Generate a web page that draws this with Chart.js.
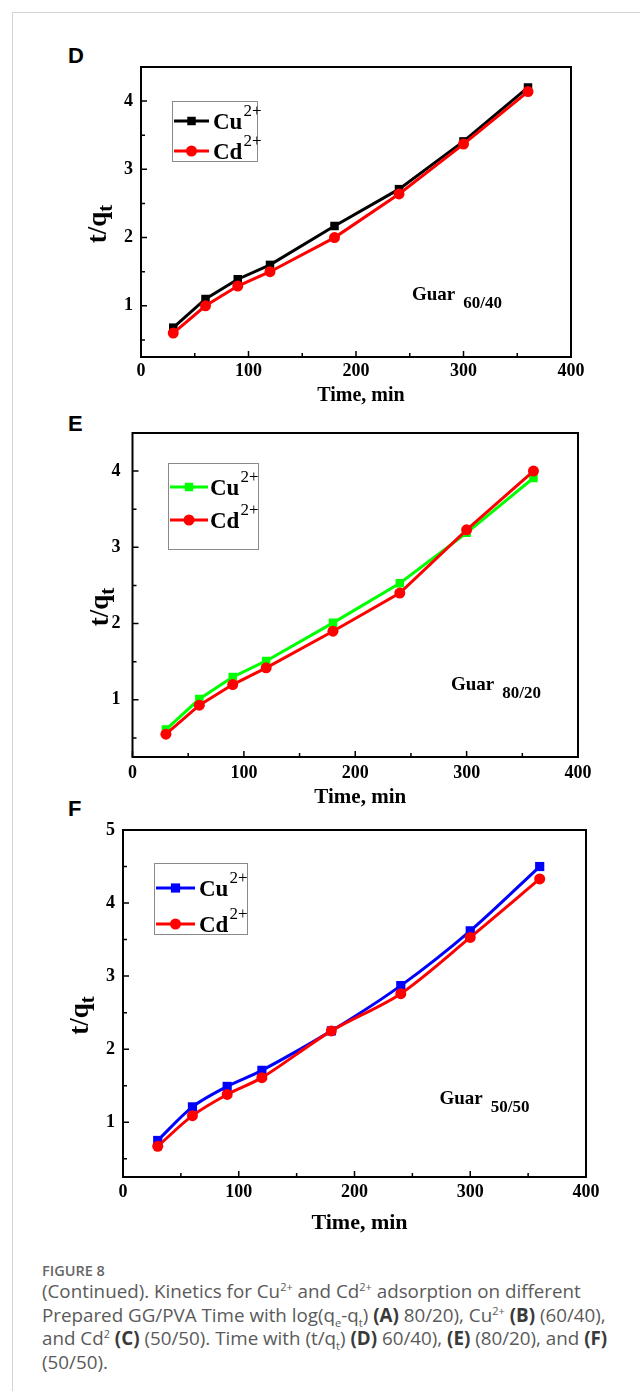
<!DOCTYPE html>
<html>
<head>
<meta charset="utf-8">
<script src="https://cdn.jsdelivr.net/npm/chart.js@4.4.0/dist/chart.umd.min.js"></script>
<style>
  body { margin: 0; background: #fff; width: 640px; height: 1391px; position: relative; overflow: hidden; }
  .frame { position: absolute; left: 12px; top: 12px; width: 640px; height: 1380px; border-left: 1px solid #d4d4d4; border-top: 1px solid #d4d4d4; }
  .panel { position: absolute; font-family: "Liberation Sans", Arial, sans-serif; font-weight: bold; font-size: 22px; color: #000; line-height: 1; }
  .box { position: absolute; left: 0; width: 640px; }
  .caption { position: absolute; left: 42px; top: 1262px; width: 598px; font-family: "Open Sans", sans-serif; color: #5a5a5a; font-size: 18.8px; line-height: 23.5px; white-space: nowrap; }
  .caption .fig { font-size: 14.5px; font-weight: 600; color: #666; line-height: 18px; margin-bottom: 0px; }
  .caption b { color: #3a3a3a; font-weight: 700; }
  .caption sup, .caption sub { font-size: 11px; line-height: 0; }
</style>
</head>
<body>
<div class="frame"></div>
<div class="panel" style="left:68px;top:45px">D</div>
<div class="panel" style="left:68px;top:413px">E</div>
<div class="panel" style="left:68px;top:798px">F</div>

<div class="box" style="top:40px;height:380px"><canvas id="chartD" width="640" height="380"></canvas></div>
<div class="box" style="top:410px;height:400px"><canvas id="chartE" width="640" height="400"></canvas></div>
<div class="box" style="top:800px;height:440px"><canvas id="chartF" width="640" height="440"></canvas></div>

<div class="caption">
  <div class="fig">FIGURE 8</div>
  (Continued). Kinetics for Cu<sup>2+</sup> and Cd<sup>2+</sup> adsorption on different<br>
  Prepared GG/PVA Time with log(q<sub>e</sub>-q<sub>t</sub>) <b>(A)</b> 80/20), Cu<sup>2+</sup> <b>(B)</b> (60/40),<br>
  and Cd<sup>2</sup> <b>(C)</b> (50/50). Time with (t/q<sub>t</sub>) <b>(D)</b> 60/40), <b>(E)</b> (80/20), and <b>(F)</b><br>
  (50/50).
</div>

<script>
// sampling times (min)
const times = [30, 60, 90, 120, 180, 240, 300, 360];

// t/qt values
const cuD = [0.68, 1.10, 1.39, 1.60, 2.17, 2.71, 3.41, 4.20];
const cdD = [0.60, 1.00, 1.29, 1.50, 2.00, 2.64, 3.37, 4.14];
const cuE = [0.61, 1.01, 1.30, 1.51, 2.01, 2.53, 3.19, 3.91];
const cdE = [0.55, 0.93, 1.20, 1.42, 1.90, 2.40, 3.23, 4.00];
const cuF = [0.75, 1.21, 1.49, 1.71, 2.25, 2.87, 3.62, 4.50];
const cdF = [0.67, 1.09, 1.38, 1.61, 2.25, 2.76, 3.53, 4.33];

// ticks
const xTicks = [0, 100, 200, 300, 400];
const xMinor = [50, 150, 250, 350];
const yTicksDE = [1, 2, 3, 4];
const yMinorDE = [0.5, 1.5, 2.5, 3.5];
const yTicksF = [1, 2, 3, 4, 5];
const yMinorF = [0.5, 1.5, 2.5, 3.5, 4.5];

const serif = '"Liberation Serif", "Times New Roman", serif';

// frame, inward ticks, axis titles, legend and the sample label
const decor = {
  id: 'decor',
  afterDatasetsDraw(chart, args, o) {
    const ctx = chart.ctx;
    const a = chart.chartArea;
    const x = chart.scales.x, y = chart.scales.y;
    ctx.save();
    ctx.strokeStyle = '#000';
    ctx.lineWidth = 2;
    ctx.strokeRect(a.left, a.top, a.right - a.left, a.bottom - a.top);

    ctx.lineWidth = 1.5;
    ctx.beginPath();
    xTicks.forEach(v => { const p = x.getPixelForValue(v); ctx.moveTo(p, a.bottom); ctx.lineTo(p, a.bottom - 6); });
    xMinor.forEach(v => { const p = x.getPixelForValue(v); ctx.moveTo(p, a.bottom); ctx.lineTo(p, a.bottom - 4); });
    o.yTicks.forEach(v => { const p = y.getPixelForValue(v); ctx.moveTo(a.left, p); ctx.lineTo(a.left + 6, p); });
    o.yMinor.forEach(v => { const p = y.getPixelForValue(v); ctx.moveTo(a.left, p); ctx.lineTo(a.left + 4, p); });
    ctx.stroke();

    ctx.fillStyle = '#000';
    // x title
    ctx.font = 'bold ' + o.xTitleSize + 'px ' + serif;
    ctx.textAlign = 'center';
    ctx.textBaseline = 'middle';
    ctx.fillText('Time, min', (a.left + a.right) / 2 + 5, a.bottom + o.xTitleGap);

    // y title t/q with subscript t
    ctx.save();
    ctx.translate(a.left - o.yTitleGap, (a.top + a.bottom) / 2 + 12);
    ctx.rotate(-Math.PI / 2);
    ctx.font = 'bold 27px ' + serif;
    const w1 = ctx.measureText('t/q').width;
    ctx.font = 'bold 21px ' + serif;
    const w2 = ctx.measureText('t').width;
    ctx.textAlign = 'left';
    ctx.textBaseline = 'alphabetic';
    ctx.font = 'bold 27px ' + serif;
    ctx.fillText('t/q', -(w1 + w2) / 2, 8);
    ctx.font = 'bold 21px ' + serif;
    ctx.fillText('t', -(w1 + w2) / 2 + w1, 14);
    ctx.restore();

    // legend
    const L = o.legend;
    ctx.strokeStyle = '#8a8a8a';
    ctx.lineWidth = 1;
    ctx.strokeRect(a.left + L.dx + 0.5, a.top + L.dy + 0.5, L.w, L.h);
    const names = ['Cu', 'Cd'];
    chart.data.datasets.forEach((ds, i) => {
      const ry = a.top + L.rows[i];
      ctx.strokeStyle = ds.borderColor;
      ctx.lineWidth = 3;
      ctx.beginPath();
      ctx.moveTo(a.left + L.s0, ry);
      ctx.lineTo(a.left + L.s1, ry);
      ctx.stroke();
      ctx.fillStyle = ds.borderColor;
      Chart.helpers.drawPoint(ctx, { pointStyle: ds.pointStyle, radius: ds.pointRadius, borderWidth: 0 }, a.left + (L.s0 + L.s1) / 2, ry);
      ctx.fillStyle = '#000';
      ctx.textAlign = 'left';
      ctx.textBaseline = 'alphabetic';
      ctx.font = 'bold 23px ' + serif;
      const tx = a.left + L.tx;
      ctx.fillText(names[i], tx, ry + 8);
      const nw = ctx.measureText(names[i]).width;
      ctx.font = '17px ' + serif;
      ctx.fillText('2+', tx + nw + 1, ry - 5);
    });

    // sample label
    const G = o.guar;
    ctx.font = 'bold 19px ' + serif;
    ctx.fillText('Guar', a.left + G.dx, a.top + G.dy);
    const gw = ctx.measureText('Guar').width;
    ctx.font = 'bold 17px ' + serif;
    ctx.fillText(G.sub, a.left + G.dx + gw + 8, a.top + G.dy + 8);
    ctx.restore();
  }
};

function makeChart(id, cu, cd, cuColor, cfg) {
  const smooth = cfg.smooth ? 0.3 : 0;
  new Chart(document.getElementById(id), {
    type: 'line',
    data: {
      datasets: [
        {
          label: 'Cu2+',
          data: times.map((t, i) => ({ x: t, y: cu[i] })),
          borderColor: cuColor,
          backgroundColor: cuColor,
          borderWidth: 3,
          pointStyle: 'rect',
          pointRadius: cfg.rectR,
          pointBorderWidth: 0,
          tension: smooth,
          order: 1
        },
        {
          label: 'Cd2+',
          data: times.map((t, i) => ({ x: t, y: cd[i] })),
          borderColor: '#ff0000',
          backgroundColor: '#ff0000',
          borderWidth: 3,
          pointStyle: 'circle',
          pointRadius: cfg.circR,
          pointBorderWidth: 0,
          tension: smooth,
          order: 0
        }
      ]
    },
    options: {
      responsive: false,
      animation: false,
      layout: { padding: cfg.pad },
      scales: {
        x: {
          type: 'linear',
          min: 0,
          max: 400,
          grid: { display: false, drawTicks: false },
          border: { display: false },
          afterFit: s => { s.height = 30; },
          afterBuildTicks: s => { s.ticks = xTicks.map(v => ({ value: v })); },
          ticks: { padding: cfg.xPad, color: '#000', font: { family: serif, size: 18, weight: 'bold' } }
        },
        y: {
          min: 0.25,
          max: cfg.yMax,
          grid: { display: false, drawTicks: false },
          border: { display: false },
          afterFit: s => { s.width = 45; },
          afterBuildTicks: s => { s.ticks = cfg.yTicks.map(v => ({ value: v })); },
          ticks: { padding: cfg.yPad, color: '#000', font: { family: serif, size: 18, weight: 'bold' } }
        }
      },
      plugins: {
        legend: { display: false },
        tooltip: { enabled: false },
        decor: cfg
      }
    },
    plugins: [decor]
  });
}

makeChart('chartD', cuD, cdD, '#000000', {
  pad: { left: 96, right: 69, top: 27, bottom: 33 },
  yMax: 4.5, yTicks: yTicksDE, yMinor: yMinorDE,
  xPad: 4, yPad: 8, xTitleSize: 20, xTitleGap: 39, yTitleGap: 43,
  rectR: 6, circR: 5.5,
  legend: { dx: 31, dy: 34, w: 85, h: 60, rows: [54, 84], s0: 33, s1: 68, tx: 72 },
  guar: { dx: 271, dy: 233, sub: '60/40' }
});

makeChart('chartE', cuE, cdE, '#00ff00', {
  pad: { left: 87.5, right: 62, top: 23, bottom: 23 },
  yMax: 4.5, yTicks: yTicksDE, yMinor: yMinorDE,
  xPad: 6, yPad: 12, xTitleSize: 21, xTitleGap: 41, yTitleGap: 33,
  rectR: 6, circR: 5.5,
  legend: { dx: 35.5, dy: 30, w: 90, h: 86, rows: [54, 87], s0: 37.5, s1: 75.5, tx: 77.5 },
  guar: { dx: 318.5, dy: 257, sub: '80/20' }
});

makeChart('chartF', cuF, cdF, '#0000ff', {
  smooth: true,
  pad: { left: 78, right: 54, top: 30, bottom: 33 },
  yMax: 5, yTicks: yTicksF, yMinor: yMinorF,
  xPad: 5, yPad: 8, xTitleSize: 22, xTitleGap: 46, yTitleGap: 43,
  rectR: 6.5, circR: 5.5,
  legend: { dx: 31, dy: 33, w: 93, h: 71, rows: [58, 94], s0: 33, s1: 72, tx: 76 },
  guar: { dx: 316.5, dy: 274, sub: '50/50' }
});
</script>
</body>
</html>
